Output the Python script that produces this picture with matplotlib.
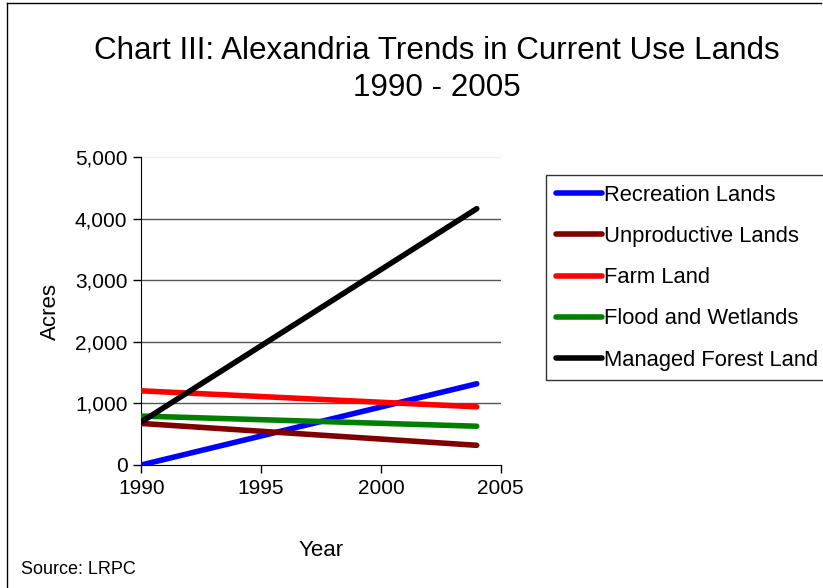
import matplotlib.pyplot as plt
from matplotlib.lines import Line2D

plt.rcParams['font.family'] = ['Liberation Sans', 'DejaVu Sans']

years = [1990, 2004]
recreation = [0, 1320]
unproductive = [675, 320]
farm = [1205, 945]
flood = [795, 630]
forest = [700, 4165]

series = [
    ('Recreation Lands', recreation, '#0000ff'),
    ('Unproductive Lands', unproductive, '#800000'),
    ('Farm Land', farm, '#ff0000'),
    ('Flood and Wetlands', flood, '#008000'),
    ('Managed Forest Land', forest, '#000000'),
]

fig = plt.figure(figsize=(8.23, 5.88), dpi=100)
ax = fig.add_axes([0.1717, 0.2092, 0.4367, 0.5233])

for name, vals, col in series:
    ax.plot(years, vals, color=col, lw=4, solid_capstyle='round', label=name, zorder=3)

ax.set_xlim(1990, 2005)
ax.set_ylim(0, 5000)
ax.set_xticks([1990, 1995, 2000, 2005])
ax.set_yticks(range(0, 5001, 1000))
ax.yaxis.set_major_formatter(plt.FuncFormatter(lambda v, p: f'{int(v):,}'))
for y in range(1000, 5000, 1000):
    ax.axhline(y, color='#555555', lw=1, zorder=1)
ax.axhline(5000, color='#eeeeee', lw=1, zorder=1)
ax.spines['top'].set_visible(False)
ax.spines['right'].set_visible(False)
ax.tick_params(direction='out', length=6, width=1, labelsize=15, pad=4)
ax.set_xlabel('Year', fontsize=16, labelpad=30)
ax.set_ylabel('Acres', fontsize=16, labelpad=10)

leg = ax.legend(loc='upper left', bbox_to_anchor=(0.664, 0.7024), bbox_transform=fig.transFigure,
                fontsize=15.8, frameon=True, fancybox=False, edgecolor='black',
                handlelength=2.1, handletextpad=0.05, labelspacing=0.92, borderpad=0.45,
                borderaxespad=0)
leg.get_frame().set_linewidth(1)

fig.text(0.531, 0.914, 'Chart III: Alexandria Trends in Current Use Lands', ha='center', va='center', fontsize=22.6)
fig.text(0.531, 0.851, '1990 - 2005', ha='center', va='center', fontsize=22.6)
fig.text(0.0255, 0.031, 'Source: LRPC', ha='left', va='center', fontsize=13)

# outer chart border (top and left edges visible)
fig.add_artist(Line2D([0.0085, 0.0085], [0, 0.995], color='black', lw=1, transform=fig.transFigure))
fig.add_artist(Line2D([0.0085, 0.997], [0.995, 0.995], color='black', lw=1, transform=fig.transFigure))

fig.savefig('out.png', dpi=100)
